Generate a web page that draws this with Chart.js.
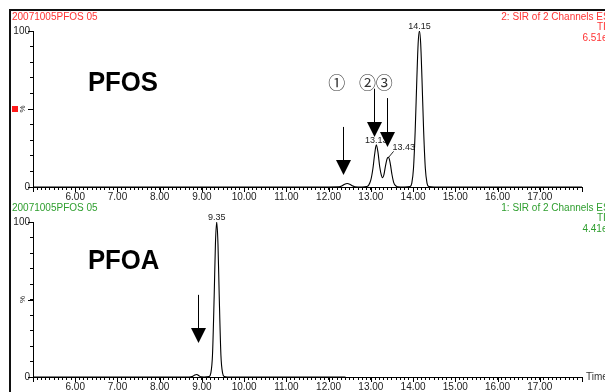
<!DOCTYPE html>
<html lang="en">
<head>
<meta charset="UTF-8">
<title>PFOS / PFOA SIR chromatogram</title>
<script src="https://cdn.jsdelivr.net/npm/chart.js@4.4.0/dist/chart.umd.min.js"></script>
<style>
    body { margin: 0; background: #fff; }
    #wrap { position: relative; width: 605px; height: 392px; overflow: hidden; }
    #wrap canvas { position: absolute; left: 0; top: 0; }
    #frame { position: absolute; left: 9px; top: 9px; width: 700px; height: 500px;
             border-left: 2px solid #111; border-top: 2px solid #111; }
</style>
</head>
<body>
<div id="wrap">
    <div id="frame"></div>
    <canvas id="chartPfos" width="605" height="392"></canvas>
    <canvas id="chartPfoa" width="605" height="392"></canvas>
</div>

<script>
// retention time (min) and relative intensity (%)
const pfosTime = [5.0, 6.0, 7.0, 8.0, 9.0, 10.0, 11.0, 12.0, 12.25, 12.32, 12.38, 12.44, 12.5, 12.56, 12.62, 12.8,
    12.9, 12.95, 13.0, 13.05, 13.09, 13.13, 13.17, 13.21, 13.25, 13.28, 13.31, 13.35, 13.39, 13.42, 13.46, 13.5,
    13.54, 13.58, 13.63, 13.8, 13.93, 13.97, 14.01, 14.05, 14.09, 14.12, 14.15, 14.18, 14.21, 14.25, 14.29, 14.33,
    14.37, 14.5, 15.0, 16.0, 17.0, 18.0];
const pfosIntensity = [0, 0, 0, 0, 0, 0, 0, 0, 0.1, 0.8, 1.8, 2.2, 1.8, 0.8, 0.2, 0,
    0.3, 1.2, 4.5, 12, 21, 27, 22, 13, 7.5, 6, 8, 14, 18.5, 19, 15, 8,
    3, 1, 0.2, 0, 0.3, 2.5, 12, 36, 70, 92, 100, 92, 70, 36, 12, 2.5,
    0.3, 0, 0, 0, 0, 0];

const pfoaTime = [5.0, 6.0, 7.0, 8.0, 8.7, 8.78, 8.83, 8.88, 8.93, 8.98, 9.05, 9.17, 9.21, 9.25, 9.29, 9.32, 9.35,
    9.38, 9.41, 9.45, 9.49, 9.53, 9.6, 10.0, 11.0, 12.0, 12.4];
const pfoaIntensity = [0, 0, 0, 0, 0, 0.4, 1.3, 1.6, 0.8, 0.1, 0, 0.3, 2.5, 14, 52, 86, 100,
    86, 52, 14, 2.5, 0.3, 0, 0, 0, 0, 0];

// peak apex labels
const pfosPeakLabels = [
    { x: 13.13, y: 27, text: '13.13' },
    { x: 13.42, y: 19, text: '13.43', leader: true },
    { x: 14.15, y: 100, text: '14.15' }
];
const pfoaPeakLabels = [{ x: 9.35, y: 100, text: '9.35' }];

// arrows: time, arrow tip and tail height (%)
const pfosArrows = [
    { x: 12.35, tip: 7.7, tail: 38.5 },
    { x: 13.08, tip: 32, tail: 63 },
    { x: 13.39, tip: 25.6, tail: 57 }
];
const pfoaArrows = [{ x: 8.91, tip: 22, tail: 53 }];

const pfosMarkers = [
    { x: 12.19, y: 67, text: '①' },
    { x: 12.92, y: 67, text: '②' },
    { x: 13.32, y: 67, text: '③' }
];

const FONT = "'Liberation Sans', Arial, sans-serif";

function isWhole(v) {
    return Math.abs(v - Math.round(v)) < 1e-6;
}

function makeChart(canvasId, opt) {
    const points = opt.time.map((t, i) => ({ x: t, y: opt.values[i] }));

    // everything that is not a plotted series: headers, labels, arrows
    const decorations = {
        id: 'decorations',
        afterDraw(chart) {
            const ctx = chart.ctx;
            const area = chart.chartArea;
            const xs = chart.scales.x;
            const ys = chart.scales.y;
            ctx.save();

            // longer ticks at whole minutes and at 0/50/100 %
            ctx.strokeStyle = '#000';
            ctx.lineWidth = 1;
            ctx.beginPath();
            xs.ticks.forEach(t => {
                if (isWhole(t.value)) {
                    const px = Math.round(xs.getPixelForValue(t.value)) + 0.5;
                    ctx.moveTo(px, area.bottom);
                    ctx.lineTo(px, area.bottom + 5);
                }
            });
            [0, 50, 100].forEach(v => {
                const py = Math.round(ys.getPixelForValue(v)) + 0.5;
                ctx.moveTo(area.left, py);
                ctx.lineTo(area.left - 5, py);
            });
            ctx.stroke();

            // headers
            ctx.fillStyle = opt.color;
            ctx.font = '10px ' + FONT;
            ctx.textBaseline = 'middle';
            ctx.textAlign = 'left';
            ctx.fillText(opt.header, 12, area.top - 14);
            ctx.textAlign = 'right';
            opt.rightLines.forEach((line, i) => {
                ctx.fillText(line, area.right + 31, area.top - 14 + i * 10.5);
            });

            // "%" on the y axis
            const midY = ys.getPixelForValue(50);
            ctx.save();
            ctx.translate(area.left - 10, midY);
            ctx.rotate(-Math.PI / 2);
            ctx.fillStyle = '#222';
            ctx.font = '8px ' + FONT;
            ctx.textAlign = 'center';
            ctx.fillText('%', 0, 0);
            ctx.restore();
            if (opt.marker) {
                ctx.fillStyle = '#ff1a1a';
                ctx.fillRect(12, midY - 3, 6, 6);
            }

            // compound name (a slightly condensed bold face)
            ctx.save();
            ctx.translate(xs.getPixelForValue(opt.name.x), ys.getPixelForValue(opt.name.y));
            ctx.scale(0.92, 1);
            ctx.fillStyle = '#000';
            ctx.font = 'bold 28px ' + FONT;
            ctx.textAlign = 'left';
            ctx.textBaseline = 'alphabetic';
            ctx.fillText(opt.name.text, 0, 0);
            ctx.restore();

            // peak labels
            ctx.font = '9px ' + FONT;
            ctx.fillStyle = '#222';
            ctx.textBaseline = 'alphabetic';
            opt.peakLabels.forEach(p => {
                const px = xs.getPixelForValue(p.x);
                const py = ys.getPixelForValue(p.y);
                if (p.leader) {
                    ctx.strokeStyle = '#222';
                    ctx.beginPath();
                    ctx.moveTo(px, py);
                    ctx.lineTo(px + 5, py - 6);
                    ctx.stroke();
                    ctx.textAlign = 'left';
                    ctx.fillText(p.text, px + 4, py - 7);
                } else {
                    ctx.textAlign = 'center';
                    ctx.fillText(p.text, px, py - 2);
                }
            });

            // circled numbers
            ctx.font = '17px "Noto Sans CJK JP", "DejaVu Sans", sans-serif';
            ctx.fillStyle = '#333';
            ctx.textAlign = 'center';
            ctx.textBaseline = 'middle';
            (opt.markers || []).forEach(m => {
                ctx.fillText(m.text, xs.getPixelForValue(m.x), ys.getPixelForValue(m.y));
            });

            // arrows
            ctx.strokeStyle = '#000';
            ctx.fillStyle = '#000';
            opt.arrows.forEach(a => {
                const px = Math.round(xs.getPixelForValue(a.x)) + 0.5;
                const tip = ys.getPixelForValue(a.tip);
                const tail = ys.getPixelForValue(a.tail);
                ctx.beginPath();
                ctx.moveTo(px, tail);
                ctx.lineTo(px, tip - 14);
                ctx.stroke();
                ctx.beginPath();
                ctx.moveTo(px - 7.5, tip - 15);
                ctx.lineTo(px + 7.5, tip - 15);
                ctx.lineTo(px, tip);
                ctx.closePath();
                ctx.fill();
            });

            if (opt.showTimeLabel) {
                ctx.font = '10px ' + FONT;
                ctx.fillStyle = '#333';
                ctx.textAlign = 'left';
                ctx.textBaseline = 'middle';
                ctx.fillText('Time', area.right + 4, area.bottom);
            }
            ctx.restore();
        }
    };

    return new Chart(document.getElementById(canvasId).getContext('2d'), {
        type: 'line',
        data: {
            datasets: [{
                data: points,
                borderColor: '#000',
                borderWidth: 1.1,
                pointRadius: 0,
                fill: false,
                cubicInterpolationMode: 'monotone'
            }]
        },
        options: {
            responsive: false,
            animation: false,
            devicePixelRatio: 1,
            layout: { padding: opt.padding },
            plugins: { legend: { display: false }, tooltip: { enabled: false } },
            scales: {
                x: {
                    type: 'linear',
                    min: 5,
                    max: 18,
                    afterFit(scale) { scale.height = 16; },
                    border: { display: true, color: '#000', width: 1 },
                    grid: { drawOnChartArea: false, tickLength: 3, tickColor: '#000' },
                    ticks: {
                        stepSize: 0.1,
                        autoSkip: false,
                        maxRotation: 0,
                        padding: 1,
                        color: '#222',
                        font: { family: FONT, size: 10 },
                        callback: v => (isWhole(v) && v > 5.5 && v < 17.5) ? Math.round(v).toFixed(2) : ''
                    }
                },
                y: {
                    min: 0,
                    max: 100,
                    afterFit(scale) { scale.width = 33; },
                    border: { display: true, color: '#000', width: 1 },
                    grid: { drawOnChartArea: false, tickLength: 3, tickColor: '#000' },
                    ticks: {
                        stepSize: 10,
                        padding: 0,
                        color: '#222',
                        font: { family: FONT, size: 10 },
                        callback: v => (v === 100 || v === 0) ? String(v) : ''
                    }
                }
            }
        },
        plugins: [decorations]
    });
}

const chartPfos = makeChart('chartPfos', {
    time: pfosTime,
    values: pfosIntensity,
    color: '#ff3333',
    header: '20071005PFOS 05',
    rightLines: ['2: SIR of 2 Channels ES-', 'TIC', '6.51e5'],
    name: { text: 'PFOS', x: 6.3, y: 61.5 },
    peakLabels: pfosPeakLabels,
    arrows: pfosArrows,
    markers: pfosMarkers,
    marker: true,
    padding: { top: 31, left: 0, right: 23, bottom: 189 }
});

const chartPfoa = makeChart('chartPfoa', {
    time: pfoaTime,
    values: pfoaIntensity,
    color: '#2e9e2e',
    header: '20071005PFOS 05',
    rightLines: ['1: SIR of 2 Channels ES-', 'TIC', '4.41e5'],
    name: { text: 'PFOA', x: 6.3, y: 69.7 },
    peakLabels: pfoaPeakLabels,
    arrows: pfoaArrows,
    showTimeLabel: true,
    padding: { top: 222, left: 0, right: 23, bottom: -1 }
});
</script>
</body>
</html>
